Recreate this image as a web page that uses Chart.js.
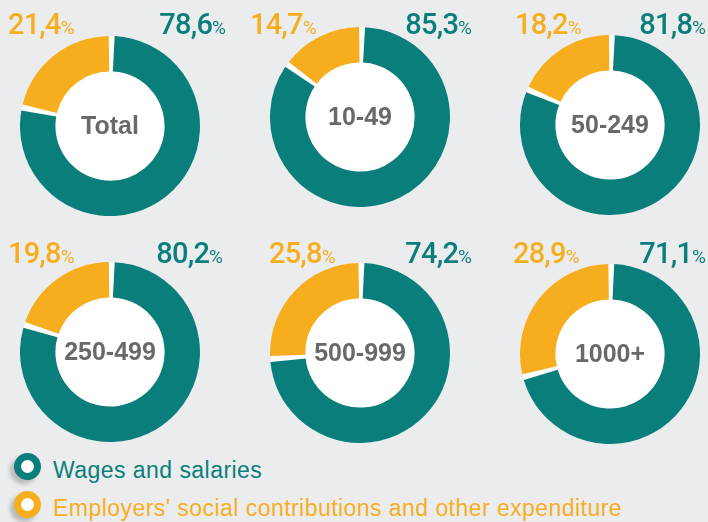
<!DOCTYPE html>
<html>
<head>
<meta charset="utf-8">
<script src="https://cdn.jsdelivr.net/npm/chart.js@4.4.1/dist/chart.umd.min.js"></script>
<style>
  html, body { margin: 0; padding: 0; }
  body { width: 708px; height: 522px; background: #ebecee; position: relative; overflow: hidden; }
  .donut { position: absolute; width: 180px; height: 180px; }
  .pct { position: absolute; font-family: Roboto, "Liberation Sans", sans-serif; font-weight: 500; font-size: 29px; line-height: 29px; letter-spacing: -0.8px; white-space: nowrap; }
  .pct small { font-size: 19px; font-weight: 400; letter-spacing: 0; }
  .legend { position: absolute; left: 0; font-family: "Liberation Sans", Arial, sans-serif; font-size: 23px; line-height: 23px; white-space: nowrap; }
  .legend .mark { position: absolute; left: 14px; width: 13px; height: 13px; border-radius: 50%; background: #fff; border: 7px solid; box-shadow: -4px 4px 4px rgba(0,0,0,0.22); }
  .legend .txt { position: absolute; left: 53px; letter-spacing: 0.45px; }
</style>
</head>
<body>
<script>
const categories = ["Total", "10-49", "50-249", "250-499", "500-999", "1000+"];
const wages = [78.6, 85.3, 81.8, 80.2, 74.2, 71.1];
const employers = [21.4, 14.7, 18.2, 19.8, 25.8, 28.9];
const seriesNames = ["Wages and salaries", "Employers' social contributions and other expenditure"];

const TEAL = "#0a7e7a";
const ORANGE = "#f7ae1e";

// where each small donut sits on the page
const panels = [
    { cx: 110, cy: 126, left: 8, right: 226, base: 34 },
    { cx: 360, cy: 117, left: 250, right: 472, base: 34 },
    { cx: 610, cy: 125, left: 515, right: 706, base: 34 },
    { cx: 110, cy: 352, left: 8, right: 223, base: 263 },
    { cx: 360, cy: 353, left: 269, right: 472, base: 263 },
    { cx: 610, cy: 354, left: 513, right: 706, base: 263 },
];

const fmt = (v) => v.toFixed(1).replace(".", ",");

// white disc behind the ring (fills the hole and the gaps) + the size class in the middle
const centerPlugin = {
    id: "center",
    beforeDatasetsDraw(chart) {
        const arc = chart.getDatasetMeta(0).data[0];
        if (!arc) return;
        const ctx = chart.ctx;
        const r = arc.outerRadius + (arc.options.spacing || 0) / 2 - 0.3;
        ctx.save();
        ctx.fillStyle = "#ffffff";
        ctx.beginPath();
        ctx.arc(arc.x, arc.y, r, 0, Math.PI * 2);
        ctx.fill();
        ctx.restore();
    },
    afterDatasetsDraw(chart) {
        const arc = chart.getDatasetMeta(0).data[0];
        if (!arc) return;
        const ctx = chart.ctx;
        ctx.save();
        ctx.fillStyle = "#696969";
        ctx.font = "bold 25px 'Liberation Sans', Arial, sans-serif";
        ctx.textAlign = "center";
        ctx.textBaseline = "middle";
        ctx.fillText(chart.options.plugins.center.label, arc.x, arc.y + 1);
        ctx.restore();
    },
};

categories.forEach((cat, i) => {
    const p = panels[i];
    const box = document.createElement("div");
    box.className = "donut";
    box.style.left = (p.cx - 90) + "px";
    box.style.top = (p.cy - 90) + "px";
    const canvas = document.createElement("canvas");
    box.appendChild(canvas);
    document.body.appendChild(box);

    new Chart(canvas.getContext("2d"), {
        type: "doughnut",
        data: {
            labels: seriesNames,
            datasets: [
                {
                    data: [wages[i], employers[i]],
                    backgroundColor: [TEAL, ORANGE],
                    borderWidth: 0,
                    spacing: 3,
                },
            ],
        },
        options: {
            responsive: true,
            maintainAspectRatio: false,
            animation: false,
            cutout: "60%",
            layout: { padding: 0 },
            plugins: {
                legend: { display: false },
                tooltip: { enabled: false },
                center: { label: cat },
            },
        },
        plugins: [centerPlugin],
    });

    const o = document.createElement("div");
    o.className = "pct";
    o.style.color = ORANGE;
    o.style.left = p.left + "px";
    o.style.top = (p.base - 24) + "px";
    o.innerHTML = fmt(employers[i]) + "<small>%</small>";
    document.body.appendChild(o);

    const t = document.createElement("div");
    t.className = "pct";
    t.style.color = TEAL;
    t.style.right = (708 - p.right) + "px";
    t.style.top = (p.base - 24) + "px";
    t.innerHTML = fmt(wages[i]) + "<small>%</small>";
    document.body.appendChild(t);
});

// legend
[TEAL, ORANGE].forEach((col, k) => {
    const base = k === 0 ? 478 : 516;
    const row = document.createElement("div");
    row.className = "legend";
    row.style.top = (base - 19) + "px";
    row.style.color = col;
    row.innerHTML = '<div class="mark" style="border-color:' + col + ';top:-6px"></div>' +
        '<div class="txt">' + seriesNames[k] + '</div>';
    document.body.appendChild(row);
});
</script>
</body>
</html>
